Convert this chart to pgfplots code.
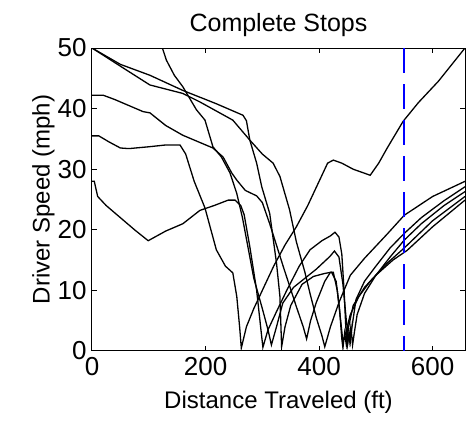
\documentclass[border=0pt]{standalone}
\usepackage{pgfplots}
\pgfplotsset{compat=1.18}
\usepackage{fontspec}
\setmainfont{Liberation Sans}
\begin{document}
\begin{tikzpicture}
\path[use as bounding box] (-92pt,-74pt) rectangle (374pt,351pt);
\begin{axis}[
  scale only axis, width=373pt, height=303pt,
  xmin=0, xmax=657, ymin=0, ymax=50,
  xtick={0,200,400,600}, ytick={0,10,20,30,40,50},
  tick align=inside, tick pos=both, major tick length=5pt,
  axis line style={line width=1pt}, every tick/.style={black,line width=1pt},
  /pgf/number format/assume math mode=true,
  tick label style={font=\fontsize{26}{28}\selectfont},
  xticklabel style={yshift=-3pt},
  yticklabel style={xshift=-2pt},
  label style={font=\fontsize{24}{28}\selectfont},
  title style={font=\fontsize{25}{28}\selectfont, yshift=2pt},
  title={Complete Stops},
  xlabel={Distance Traveled (ft)}, ylabel={Driver Speed (mph)},
  xlabel style={yshift=-8pt}, ylabel style={yshift=-4pt},
]
% C (start 35.5) -> rises to 50
\addplot[black, line width=1.3pt] coordinates {(0,35.5)(12,35.5)(30,34.5)(50,33.5)(65,33.4)(100,33.7)(130,34)(155,34)(165,32.5)(180,28)(199,23.6)(219,16.7)(235,14)(248,12.9)(255,9)(260,4)(263,0.5)(272,4)(285,7)(300,10)(320,14)(340,17.5)(360,20.5)(380,24)(401,28.2)(415,31)(425,31.5)(440,31)(460,30)(490,29)(505,31)(520,33.5)(548,37.9)(575,41)(610,44.5)(657,50)};
% C1 (start 28)
\addplot[black, line width=1.3pt] coordinates {(0,28)(4,28)(10,25.5)(25,24)(50,22)(75,20)(99,18.2)(130,19.8)(160,21)(190,23.2)(215,24)(240,24.9)(252,24.9)(262,24)(268,22.5)(278,17.2)(290,10)(297,4)(301,0.6)(310,3.5)(325,6.5)(343,10)(365,14)(384,16.7)(405,18.2)(420,19)(428,19.6)(435,18.8)(440,16)(444,10)(447,4)(450,1)(453,3)(455,1.5)(458,4)(465,8.5)(480,11.5)(500,14)(525,17)(550,19.4)(580,22)(620,24.8)(657,27.1)};
% E (enters at top)
\addplot[black, line width=1.3pt] coordinates {(124,50)(131,48)(145,45.5)(160,43.6)(184,39.8)(199,38.1)(213,33.7)(228,32)(243,29.4)(255,26)(265,22)(275,17)(285,12)(300,7)(310,3.5)(316,1)(325,4)(336,7.9)(355,10.5)(371,11.7)(395,13.5)(419,15.6)(427,16.5)(435,15.5)(442,11)(448,5)(453,1.5)(456,4)(459,1)(462,3)(467,6)(480,9.5)(500,12.5)(525,15.5)(550,18.3)(580,21)(620,24)(657,26.3)};
% L1
\addplot[black, line width=1.3pt] coordinates {(0,50)(50,47.3)(102,45.5)(160,43)(219,40.8)(266,38.9)(272,38)(278,34.8)(290,31)(299,27.1)(313,22.7)(325,14.5)(331,9)(334,0.7)(340,4)(350,7.5)(370,11)(390,12.3)(410,12.8)(422,13)(430,11.5)(436,7)(440,2)(442,0.5)(445,3)(448,1)(452,4)(460,7.5)(480,10.5)(500,12.5)(530,15)(555,16.6)(600,20.5)(657,24.9)};
% L2
\addplot[black, line width=1.3pt] coordinates {(0,50)(50,47)(102,43.9)(160,42.5)(190,41.1)(248,38.1)(278,34.8)(300,32.5)(319,31)(331,28.8)(348,23.3)(360,18)(375,13)(384,9.5)(395,5.5)(405,2.5)(410,0.7)(420,4)(435,8)(455,12.5)(480,15.3)(520,19.3)(550,22.4)(600,25.5)(657,28)};
% B (start 42)
\addplot[black, line width=1.3pt] coordinates {(0,42.2)(20,42.2)(40,41.5)(60,40.7)(90,39.5)(102,39.3)(130,37.2)(160,35.6)(213,33.5)(231,32)(246,29.4)(255,28.2)(270,26.5)(290,25.6)(300,24.5)(313,21)(337,13.9)(360,7.3)(372,4)(378,2)(385,5)(395,8)(410,11.5)(420,13)(425,13)(432,10)(438,5)(442,1.5)(447,3)(455,6)(470,9)(490,11.5)(520,14.5)(550,17)(600,21.5)(657,25.5)};
% dashed marker
\addplot[blue, line width=1.6pt, dash pattern=on 25pt off 11pt] coordinates {(550,50)(550,0)};
\end{axis}
\end{tikzpicture}
\end{document}
